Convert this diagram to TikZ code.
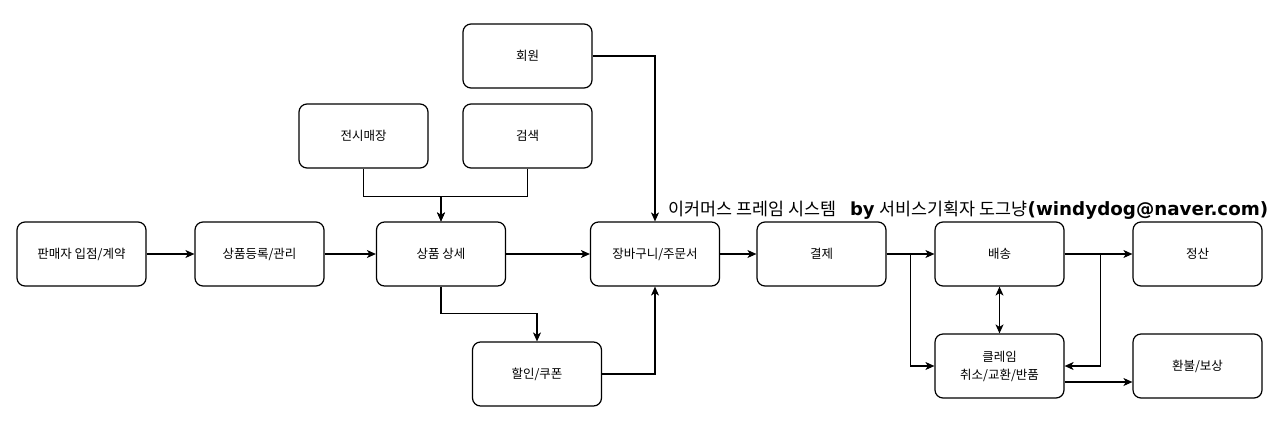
\documentclass[tikz,border=0pt]{standalone}
\usepackage{fontspec}
\setmainfont{Noto Sans CJK KR}
\newfontfamily\kr{Noto Sans CJK KR}
\newfontfamily\dv{DejaVu Sans}
\usetikzlibrary{arrows.meta}
\tikzset{
  box/.style={draw=black, line width=1.2pt, rounded corners=8pt, minimum width=129pt, minimum height=64pt, inner sep=0pt, align=center, font=\kr\fontsize{12.5}{18}\selectfont},
  arr/.style={draw=black, line width=1.1pt, -{Stealth[length=9pt,width=8pt,inset=2.5pt]}},
  darr/.style={draw=black, line width=1.1pt, {Stealth[length=9pt,width=8pt,inset=2.5pt]}-{Stealth[length=9pt,width=8pt,inset=2.5pt]}}
}
\begin{document}
\begin{tikzpicture}[x=1pt,y=-1pt]
\useasboundingbox (0,0) rectangle (1280,429);
\fill[white] (0,0) rectangle (1280,429);
\node[box] (seller) at (81.5,254) {판매자 입점/계약};
\node[box] (reg) at (259.5,254) {상품등록/관리};
\node[box] (detail) at (441,254) {상품 상세};
\node[box] (shop) at (363.5,136) {전시매장};
\node[box] (search) at (527.5,136) {검색};
\node[box] (member) at (527.5,56) {회원};
\node[box] (cart) at (655,254) {장바구니/주문서};
\node[box] (coupon) at (537,374) {할인/쿠폰};
\node[box] (pay) at (821.5,254) {결제};
\node[box] (ship) at (999.5,254) {배송};
\node[box] (settle) at (1197.5,254) {정산};
\node[box] (claim) at (999.5,366) {클레임\\취소/교환/반품};
\node[box] (refund) at (1197.5,366) {환불/보상};

\node[anchor=base west, inner sep=0pt] (title) at (668,215) {{\kr\fontsize{17.4}{20}\selectfont 이커머스 프레임 시스템}\hspace{14pt}{\dv\bfseries\fontsize{18}{20}\selectfont by}\hspace{5pt}{\kr\fontsize{17.4}{20}\selectfont 서비스기획자 도그냥}{\dv\bfseries\fontsize{18.3}{20}\selectfont (windydog@naver.com)}};

\draw[arr] (seller.east) -- (reg.west);
\draw[arr] (reg.east) -- (detail.west);
\draw[arr] (detail.east) -- (cart.west);
\draw[arr] (shop.south) -- ++(0,28) -| (detail.north);
\draw[arr] (search.south) -- ++(0,28) -| (detail.north);
\draw[arr] (member.east) -| (cart.north);
\draw[arr] (detail.south) -- ++(0,27) -| (coupon.north);
\draw[arr] (coupon.east) -| (cart.south);
\draw[arr] (cart.east) -- (pay.west);
\draw[arr] (pay.east) -- (ship.west);
\draw[arr] (pay.east) -- ++(24,0) |- (claim.west);
\draw[arr] (ship.east) -- (settle.west);
\draw[arr] (ship.east) -- ++(36,0) |- (claim.east);
\draw[darr] (ship.south) -- (claim.north);
\draw[arr] ([yshift=-16pt]claim.east) -- ([yshift=-16pt]refund.west);
\end{tikzpicture}
\end{document}
